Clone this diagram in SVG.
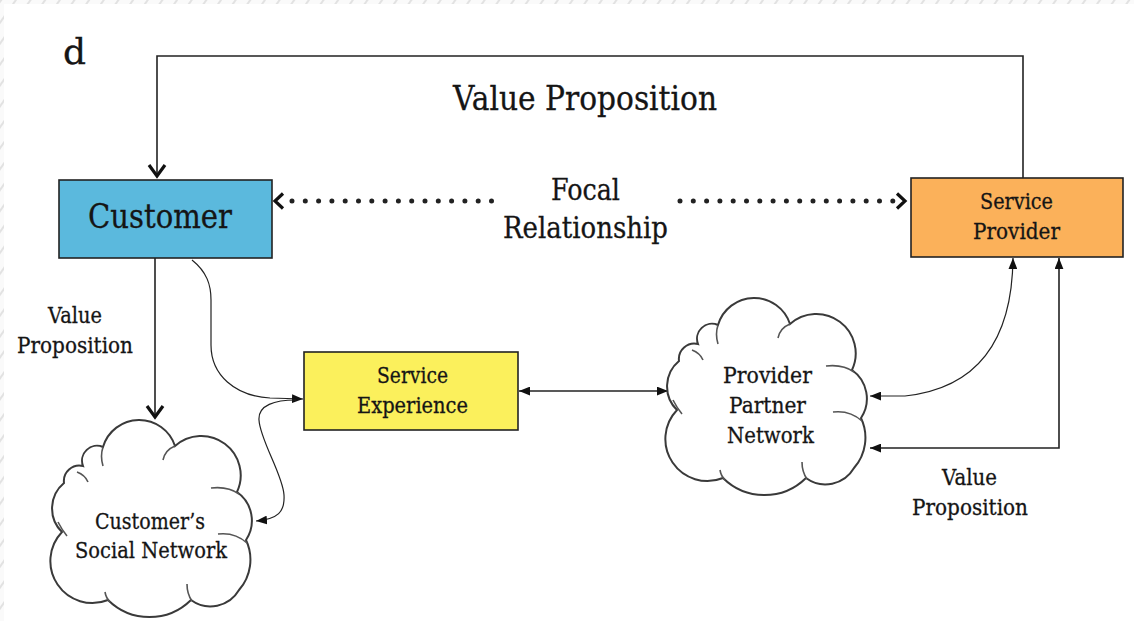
<svg xmlns="http://www.w3.org/2000/svg" width="1134" height="621" viewBox="0 0 1134 621">
<style>
.t{font-family:"DejaVu Serif","Liberation Serif",serif;fill:#151515;stroke:#151515;stroke-width:0.3}
.s{font-size:22px}
.box{stroke:#222;stroke-width:1.6}
.ln{fill:none;stroke:#222;stroke-width:1.6}
.cv{fill:none;stroke:#222;stroke-width:1.2}
.chev{fill:none;stroke:#111;stroke-width:3.2;stroke-linejoin:miter;stroke-linecap:butt}
.dot{fill:none;stroke:#222;stroke-width:5;stroke-linecap:round;stroke-dasharray:0 13.3}
.cloud{fill:#fff;stroke:#3a3a3a;stroke-width:2}
.inner{fill:none;stroke:#555;stroke-width:1.6}
</style>
<defs>
<marker id="tri" viewBox="0 0 10 8" refX="10" refY="4" markerWidth="11" markerHeight="9" markerUnits="userSpaceOnUse" orient="auto-start-reverse">
<path d="M0,0 L10,4 L0,8 Z" fill="#111"/>
</marker>
<pattern id="hatch" width="12" height="12" patternUnits="userSpaceOnUse" patternTransform="rotate(35)">
<rect width="12" height="12" fill="#fafafa"/>
<line x1="0" y1="0" x2="0" y2="12" stroke="#e2e2e2" stroke-width="4"/>
</pattern>
<g id="cloudShape">
<path class="cloud" d="M9,112 A33,33 0 0 1 11,63 A15.5,15.5 0 0 1 30,46 A15,15 0 0 1 50,27 A37.7,37.7 0 0 1 122,26 A39.4,39.4 0 0 1 184,72 A35,35 0 0 1 193,120 A46,46 0 0 1 186,170 A33,33 0 0 1 138,180 A59,59 0 0 1 55,180 A42,42 0 0 1 9,112 Z"/>
<path class="inner" d="M110,40 Q112,30 122,26 M158,68 Q175,66 186,74 M165,114 Q182,112 194,123 M134,164 Q134,174 139,181 M50,27 Q47,36 50,46 M24,52 Q32,55 35,62 M5,102 Q9,110 14,116 M52,172 Q53,178 57,182"/>
</g>
</defs>
<rect width="1134" height="621" fill="#fff"/>
<rect x="0" y="0" width="1134" height="4" fill="url(#hatch)"/>
<rect x="0" y="0" width="4" height="621" fill="url(#hatch)"/>
<text class="t" x="63" y="64" font-size="36">d</text>

<g id="connectors">
<path class="ln" d="M1023,178 V56 H157 V176"/>
<polyline class="chev" points="149,165 157,176 165,165"/>
<path class="dot" d="M292,201 H500"/>
<polyline class="chev" points="283,193.5 275,201 283,208.5"/>
<path class="dot" d="M680,201 H893"/>
<polyline class="chev" points="897,193.5 905,201 897,208.5"/>
<path class="ln" d="M155,258 V416"/>
<polyline class="chev" points="147,406 155,417 163,406"/>
<path class="cv" d="M192,260 C207,272 211,285 211,300 L211,345 C211,375 235,396 270,398 L303,399" marker-end="url(#tri)"/>
<path class="cv" d="M296,400 C275,400 258,405 259,420 C260,440 283,475 284,495 C285,512 278,519 256,521" marker-end="url(#tri)"/>
<path class="ln" d="M519,391 H668" marker-start="url(#tri)" marker-end="url(#tri)"/>
<path class="cv" d="M870,396 L905,396 C960,390 1012,360 1013,258" marker-start="url(#tri)" marker-end="url(#tri)"/>
<path class="ln" d="M1059,258 V448 H870" marker-start="url(#tri)" marker-end="url(#tri)"/>
</g>

<g id="customer">
<rect class="box" x="59" y="180" width="213" height="78" fill="#5BB9DD"/>
<text class="t" x="88" y="228" font-size="34" textLength="144" lengthAdjust="spacingAndGlyphs">Customer</text>
</g>
<g id="service-provider">
<rect class="box" x="911" y="178" width="212" height="79" fill="#FBB15A"/>
<text class="t s" x="980" y="209" textLength="73" lengthAdjust="spacingAndGlyphs">Service</text>
<text class="t s" x="973" y="239" textLength="87" lengthAdjust="spacingAndGlyphs">Provider</text>
</g>
<g id="service-experience">
<rect class="box" x="304" y="352" width="214" height="78" fill="#FBF05C"/>
<text class="t s" x="377" y="383" textLength="71" lengthAdjust="spacingAndGlyphs">Service</text>
<text class="t s" x="357" y="413" textLength="111" lengthAdjust="spacingAndGlyphs">Experience</text>
</g>
<g id="customers-social-network">
<use href="#cloudShape" transform="translate(53,420)"/>
<text class="t s" x="95" y="529" textLength="110" lengthAdjust="spacingAndGlyphs">Customer’s</text>
<text class="t s" x="75" y="558" textLength="152" lengthAdjust="spacingAndGlyphs">Social Network</text>
</g>
<g id="provider-partner-network">
<use href="#cloudShape" transform="translate(668,298)"/>
<text class="t s" x="723" y="383" textLength="89" lengthAdjust="spacingAndGlyphs">Provider</text>
<text class="t s" x="729" y="413" textLength="77" lengthAdjust="spacingAndGlyphs">Partner</text>
<text class="t s" x="727" y="443" textLength="87" lengthAdjust="spacingAndGlyphs">Network</text>
</g>
<g id="labels">
<text class="t" x="453" y="110" font-size="33" textLength="264" lengthAdjust="spacingAndGlyphs">Value Proposition</text>
<text class="t" x="551" y="200" font-size="29" textLength="69" lengthAdjust="spacingAndGlyphs">Focal</text>
<text class="t" x="503" y="238" font-size="29" textLength="165" lengthAdjust="spacingAndGlyphs">Relationship</text>
<text class="t s" x="48" y="323" textLength="54" lengthAdjust="spacingAndGlyphs">Value</text>
<text class="t s" x="17" y="353" textLength="116" lengthAdjust="spacingAndGlyphs">Proposition</text>
<text class="t s" x="942" y="485" textLength="55" lengthAdjust="spacingAndGlyphs">Value</text>
<text class="t s" x="912" y="515" textLength="116" lengthAdjust="spacingAndGlyphs">Proposition</text>
</g>
</svg>
